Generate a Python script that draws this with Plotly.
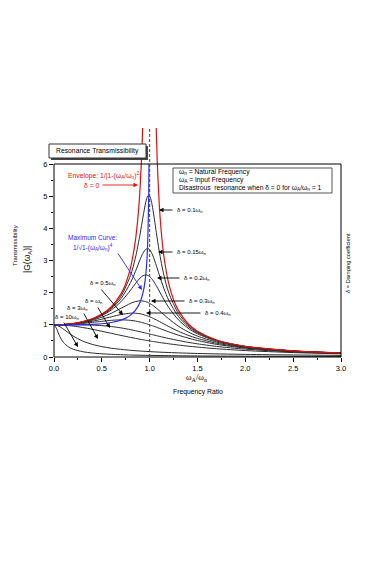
import plotly.graph_objects as go

# ---------------- data ----------------
ratio = [0, 0.1, 0.2, 0.3, 0.4, 0.5, 0.6, 0.7, 0.8, 0.85, 0.9, 0.93, 0.96, 0.98,
         1.0, 1.02, 1.04, 1.07, 1.1, 1.15, 1.2, 1.3, 1.4, 1.5, 1.7, 2.0, 2.5, 3.0]
g_d010 = [1.000, 1.010, 1.041, 1.097, 1.185, 1.322, 1.536, 1.891, 2.538, 3.073, 3.821, 4.350, 4.822, 5.001,
          5.000, 4.809, 4.476, 3.869, 3.288, 2.524, 1.995, 1.356, 1.000, 0.778, 0.521, 0.330, 0.190, 0.125]
g_d015 = [1.000, 1.010, 1.040, 1.094, 1.179, 1.307, 1.504, 1.813, 2.311, 2.653, 3.029, 3.226, 3.350, 3.371,
          3.333, 3.240, 3.101, 2.839, 2.557, 2.117, 1.759, 1.262, 0.954, 0.753, 0.511, 0.327, 0.189, 0.124]
g_d020 = [1.000, 1.009, 1.038, 1.089, 1.169, 1.288, 1.463, 1.719, 2.076, 2.279, 2.457, 2.527, 2.552, 2.538,
          2.500, 2.439, 2.359, 2.213, 2.051, 1.780, 1.536, 1.157, 0.900, 0.721, 0.498, 0.322, 0.187, 0.124]
g_d030 = [1.000, 1.008, 1.034, 1.078, 1.145, 1.238, 1.362, 1.514, 1.667, 1.722, 1.747, 1.742, 1.720, 1.697,
          1.667, 1.630, 1.589, 1.519, 1.444, 1.313, 1.185, 0.960, 0.784, 0.649, 0.466, 0.309, 0.183, 0.122]
g_d040 = [1.000, 1.007, 1.027, 1.063, 1.112, 1.176, 1.250, 1.320, 1.362, 1.362, 1.343, 1.322, 1.295, 1.274,
          1.250, 1.224, 1.196, 1.152, 1.105, 1.026, 0.947, 0.801, 0.678, 0.577, 0.429, 0.294, 0.178, 0.120]
g_d050 = [1.000, 1.005, 1.020, 1.044, 1.075, 1.109, 1.140, 1.155, 1.140, 1.118, 1.087, 1.064, 1.038, 1.020,
          1.000, 0.980, 0.959, 0.926, 0.893, 0.837, 0.782, 0.679, 0.589, 0.512, 0.393, 0.277, 0.172, 0.117]
g_d070 = [1.000, 1.000, 1.000, 0.998, 0.991, 0.975, 0.947, 0.905, 0.850, 0.818, 0.785, 0.764, 0.743, 0.729,
          0.714, 0.700, 0.686, 0.664, 0.643, 0.609, 0.576, 0.514, 0.458, 0.409, 0.329, 0.244, 0.158, 0.111]
g_d100 = [1.000, 0.990, 0.962, 0.917, 0.862, 0.800, 0.735, 0.671, 0.610, 0.581, 0.552, 0.536, 0.520, 0.510,
          0.500, 0.490, 0.480, 0.466, 0.452, 0.431, 0.410, 0.372, 0.338, 0.308, 0.257, 0.200, 0.138, 0.100]

ratio_fast = [0, 0.025, 0.05, 0.075, 0.1, 0.15, 0.2, 0.3, 0.4, 0.5, 0.6, 0.8, 1.0, 1.2, 1.5, 2.0, 2.5, 3.0]
g_d300 = [1.000, 0.990, 0.960, 0.916, 0.864, 0.753, 0.651, 0.496, 0.393, 0.323, 0.273, 0.208, 0.167,
          0.139, 0.110, 0.081, 0.063, 0.051]
g_d1000 = [1.000, 0.895, 0.708, 0.556, 0.448, 0.317, 0.243, 0.165, 0.124, 0.100, 0.083, 0.062, 0.050,
           0.042, 0.033, 0.025, 0.020, 0.017]

env_left_r = [0, 0.1, 0.2, 0.3, 0.4, 0.5, 0.6, 0.7, 0.75, 0.8, 0.85, 0.88, 0.9, 0.92, 0.93]
env_left_g = [1.000, 1.010, 1.042, 1.099, 1.190, 1.333, 1.563, 1.961, 2.286, 2.778, 3.604, 4.433, 5.263, 6.510, 7.402]
env_right_r = [1.065, 1.08, 1.1, 1.12, 1.15, 1.2, 1.25, 1.3, 1.4, 1.5, 1.7, 2.0, 2.5, 3.0]
env_right_g = [7.450, 6.010, 4.762, 3.931, 3.101, 2.273, 1.778, 1.449, 1.042, 0.800, 0.529, 0.333, 0.190, 0.125]

max_r = [0, 0.2, 0.4, 0.5, 0.6, 0.7, 0.75, 0.8, 0.85, 0.9, 0.93, 0.95, 0.97, 0.98, 0.99, 0.993]
max_g = [1.000, 1.001, 1.013, 1.033, 1.072, 1.147, 1.209, 1.301, 1.446, 1.705, 1.992, 2.322, 2.953, 3.590, 5.038, 6.007]

x_ticks = [0, 0.5, 1.0, 1.5, 2.0, 2.5, 3.0]
x_tick_labels = ["0.0", "0.5", "1.0", "1.5", "2.0", "2.5", "3.0"]
y_ticks = [0, 1, 2, 3, 4, 5, 6]

# ---------------- layout helpers (page pixel coordinates) ----------------
BODY = 8                      # default page body margin around the plot div
W, H = 370 - 2 * BODY, 566 - 2 * BODY
L, R, T, B = 54, 341, 128, 357   # plot area in page pixels
Y_TOP_PX = 164                   # page row of value 6
y_max = 6 * (B - T) / (B - Y_TOP_PX)


def px(x):
    return (x - L) / (R - L)


def py(y):
    return (B - y) / (B - T)


FONT = "Liberation Sans, Arial, sans-serif"
BLACK = "#2a2a2a"
RED = "#e01010"
BLUE = "#2b2bf0"

fig = go.Figure()


def add_line(x, y, color, width=1.0):
    fig.add_trace(go.Scatter(x=x, y=y, mode="lines", hoverinfo="skip", showlegend=False,
                             line=dict(color=color, width=width, shape="spline", smoothing=0.8)))


for g in [g_d100, g_d070, g_d050, g_d040, g_d030, g_d020, g_d015, g_d010]:
    add_line(ratio, g, BLACK)
for g in [g_d300, g_d1000]:
    add_line(ratio_fast, g, BLACK)
add_line(env_left_r, env_left_g, RED, 1.2)
add_line(env_right_r, env_right_g, RED, 1.2)
add_line(max_r, max_g, BLUE, 1.2)

shapes = []
# plot frame (value 0..6)
shapes.append(dict(type="rect", xref="paper", yref="paper", x0=0, x1=1, y0=0, y1=py(Y_TOP_PX),
                   line=dict(color="black", width=1), fillcolor="rgba(0,0,0,0)"))
# dashed resonance line
shapes.append(dict(type="line", xref="x", yref="paper", x0=1, x1=1, y0=0, y1=1,
                   line=dict(color="#444444", width=1, dash="3px,2px")))
# title box with shadow
shapes.append(dict(type="rect", xref="paper", yref="paper", x0=px(51), x1=px(148), y0=py(160), y1=py(146),
                   line=dict(width=0), fillcolor="#444444"))
shapes.append(dict(type="rect", xref="paper", yref="paper", x0=px(49), x1=px(146), y0=py(158), y1=py(144),
                   line=dict(color="#333333", width=1), fillcolor="white"))
# info box
shapes.append(dict(type="rect", xref="paper", yref="paper", x0=px(173), x1=px(332), y0=py(193), y1=py(168),
                   line=dict(color="#555555", width=1), fillcolor="white"))

ann = []


def text(x, y, s, size=7, color="black", xanchor="center", angle=0, family=FONT):
    ann.append(dict(xref="paper", yref="paper", x=px(x), y=py(y), text=s, showarrow=False,
                    xanchor=xanchor, yanchor="middle", textangle=angle,
                    font=dict(family=family, size=size, color=color)))


def arrow(tail, tip, color="black"):
    ann.append(dict(xref="paper", yref="paper", x=px(tip[0]), y=py(tip[1]), text="",
                    showarrow=True, ax=tail[0] - tip[0], ay=tail[1] - tip[1],
                    arrowhead=2, arrowsize=1, arrowwidth=0.9, arrowcolor=color))


text(97.5, 151, "Resonance Transmissibility", 6.8)
text(177, 172, "ω<sub>n</sub> = Natural Frequency", 6.7, xanchor="left")
text(177, 180, "ω<sub>A</sub> = Input Frequency", 6.7, xanchor="left")
text(177, 188, "Disastrous  resonance when δ = 0 for ω<sub>A</sub>/ω<sub>n</sub> = 1", 6.7, xanchor="left")

# envelope (red)
text(104, 175, "Envelope: 1/|1-(ω<sub>A</sub>/ω<sub>n</sub>)<sup>2</sup>|", 6.8, RED)
text(92, 185, "δ = 0", 6.8, RED)
arrow((101, 185), (138, 185), RED)

# maximum curve (blue)
text(92, 237, "Maximum Curve:", 6.5, BLUE)
text(93, 247, "1/√1-(ω<sub>A</sub>/ω<sub>n</sub>)<sup>4</sup>", 6.5, BLUE)
arrow((117, 252), (142, 290), BLUE)

# damping labels on the right
for lab, yy, tail_x, tip_x in [("0.1", 210, 174, 159), ("0.15", 252, 174, 158), ("0.2", 278, 181, 157),
                              ("0.3", 301, 186, 151), ("0.4", 313, 202, 146)]:
    arrow((tail_x, yy), (tip_x, yy))
    text(tail_x + 1, yy, "δ = " + lab + "ω<sub>n</sub>", 6, xanchor="left")

# damping labels on the left
text(103, 283, "δ = 0.5ω<sub>n</sub>", 6)
arrow((100, 288), (123, 315))
text(94, 301, "δ = ω<sub>n</sub>", 6)
arrow((97, 306), (110, 328))
text(77, 308, "δ = 3ω<sub>n</sub>", 6)
arrow((83, 312), (98, 339))
text(67, 317, "δ = 10ω<sub>n</sub>", 6)
arrow((63, 321), (78, 347))

# axis titles
text(15, 246, "Transmissibility", 6, angle=-90)
text(27, 260, "|G(ω<sub>A</sub>)|", 8.5, angle=-90)
text(196, 377, "ω<sub>A</sub>/ω<sub>n</sub>", 8.5, family="Liberation Serif, Times New Roman, serif")
text(198, 392, "Frequency Ratio", 6.8)
text(348, 263, "δ = Damping coefficient", 5.7, angle=-90)

fig.update_layout(
    width=W, height=H,
    margin=dict(l=L - BODY, r=W - (R - BODY), t=T - BODY, b=H - (B - BODY), pad=0),
    paper_bgcolor="white", plot_bgcolor="white",
    font=dict(family=FONT, size=7.5, color="black"),
    showlegend=False,
    shapes=shapes,
    annotations=ann,
    xaxis=dict(range=[0, 3], tickmode="array", tickvals=x_ticks, ticktext=x_tick_labels,
               ticks="outside", ticklen=4, tickwidth=1, tickcolor="black",
               showline=False, showgrid=False, zeroline=False,
               minor=dict(tickvals=[0.25, 0.75, 1.25, 1.75, 2.25, 2.75], ticks="outside",
                          ticklen=2, tickcolor="black", showgrid=False),
               tickfont=dict(size=7.5)),
    yaxis=dict(range=[0, y_max], tickmode="array", tickvals=y_ticks,
               ticks="outside", ticklen=4, tickwidth=1, tickcolor="black",
               showline=False, showgrid=False, zeroline=False,
               minor=dict(tickvals=[0.5, 1.5, 2.5, 3.5, 4.5, 5.5], ticks="outside",
                          ticklen=2, tickcolor="black", showgrid=False),
               tickfont=dict(size=7.5)),
)

fig.write_html("out.html")
